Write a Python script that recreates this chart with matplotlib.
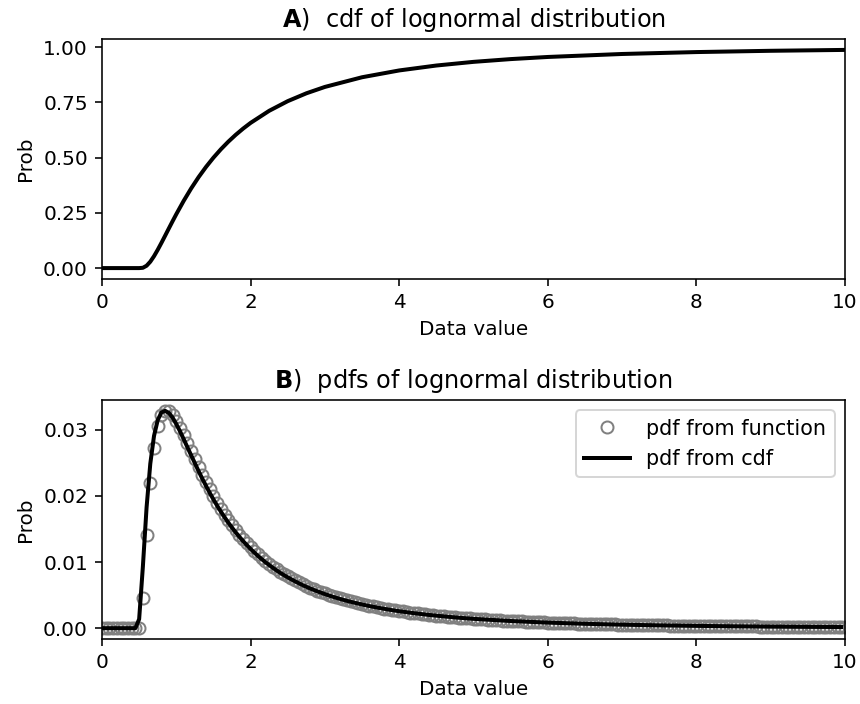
import numpy as np
import matplotlib
matplotlib.use("Agg")
import matplotlib.pyplot as plt

# sample grid of the "pdf from function" markers (every 0.05 from 0 to 10)
x_grid = np.linspace(0, 10, 201)

# pdf from function (one value per grid point)
pdf_func = [
    0, 0, 0, 0, 0, 0, 0, 0, 0, 0,
    0, 0.00449, 0.01408, 0.02199, 0.02731, 0.03052, 0.03221, 0.03285, 0.03277, 0.03223,
    0.03137, 0.03033, 0.02918, 0.02797, 0.02674, 0.02552, 0.02432, 0.02316, 0.02204, 0.02097,
    0.01995, 0.01897, 0.01805, 0.01718, 0.01635, 0.01557, 0.01482, 0.01413, 0.01346, 0.01284,
    0.01225, 0.01169, 0.01116, 0.01066, 0.01019, 0.00975, 0.00932, 0.00892, 0.00854, 0.00818,
    0.00784, 0.00752, 0.00721, 0.00692, 0.00664, 0.00638, 0.00613, 0.00589, 0.00567, 0.00545,
    0.00524, 0.00505, 0.00486, 0.00468, 0.00451, 0.00435, 0.00419, 0.00404, 0.00390, 0.00377,
    0.00364, 0.00351, 0.00339, 0.00328, 0.00317, 0.00306, 0.00296, 0.00287, 0.00277, 0.00269,
    0.00260, 0.00252, 0.00244, 0.00236, 0.00229, 0.00222, 0.00215, 0.00209, 0.00203, 0.00197,
    0.00191, 0.00185, 0.00180, 0.00175, 0.00170, 0.00165, 0.00160, 0.00156, 0.00151, 0.00147,
    0.00143, 0.00139, 0.00135, 0.00132, 0.00128, 0.00125, 0.00121, 0.00118, 0.00115, 0.00112,
    0.00109, 0.00107, 0.00104, 0.00101, 0.00099, 0.00096, 0.00094, 0.00092, 0.00089, 0.00087,
    0.00085, 0.00083, 0.00081, 0.00079, 0.00077, 0.00075, 0.00074, 0.00072, 0.00070, 0.00068,
    0.00067, 0.00065, 0.00064, 0.00062, 0.00061, 0.00060, 0.00058, 0.00057, 0.00056, 0.00054,
    0.00053, 0.00052, 0.00051, 0.00050, 0.00049, 0.00048, 0.00047, 0.00046, 0.00045, 0.00044,
    0.00043, 0.00042, 0.00041, 0.00040, 0.00040, 0.00039, 0.00038, 0.00037, 0.00036, 0.00036,
    0.00035, 0.00034, 0.00034, 0.00033, 0.00032, 0.00032, 0.00031, 0.00030, 0.00030, 0.00029,
    0.00029, 0.00028, 0.00028, 0.00027, 0.00027, 0.00026, 0.00026, 0.00025, 0.00025, 0.00024,
    0.00024, 0.00023, 0.00023, 0.00023, 0.00022, 0.00022, 0.00021, 0.00021, 0.00021, 0.00020,
    0.00020, 0.00020, 0.00019, 0.00019, 0.00019, 0.00018, 0.00018, 0.00018, 0.00017, 0.00017,
    0.00017,
]

# pdf from cdf (black line in panel B)
x_pdf_cdf = [
    0, 0.45, 0.50, 0.55, 0.60, 0.65, 0.70, 0.75, 0.80, 0.85, 0.90, 0.95,
    1.00, 1.05, 1.10, 1.15, 1.20, 1.25, 1.30, 1.35, 1.40, 1.45, 1.50, 1.55,
    1.60, 1.65, 1.70, 1.75, 1.80, 1.85, 1.90, 1.95, 2.00, 2.05, 2.10, 2.15,
    2.20, 2.25, 2.30, 2.35, 2.40, 2.45, 2.50, 2.60, 2.70, 2.80, 2.90, 3.00,
    3.10, 3.20, 3.30, 3.40, 3.50, 3.60, 3.70, 3.80, 3.90, 4.00, 4.20, 4.40,
    4.60, 4.80, 5.00, 5.50, 6.00, 6.50, 7.00, 7.50, 8.00, 8.50, 9.00, 9.50, 9.95,
]
pdf_cdf = [
    0, 0, 0.00137, 0.00928, 0.01826, 0.02487, 0.02906, 0.03146, 0.03262, 0.03285, 0.03254, 0.03184,
    0.03085, 0.02977, 0.02856, 0.02734, 0.02614, 0.02494, 0.02374, 0.02260, 0.02151, 0.02046, 0.01946, 0.01851,
    0.01762, 0.01677, 0.01596, 0.01520, 0.01448, 0.01380, 0.01315, 0.01255, 0.01197, 0.01143, 0.01091, 0.01043,
    0.00997, 0.00954, 0.00912, 0.00873, 0.00836, 0.00801, 0.00768, 0.00707, 0.00651, 0.00601, 0.00556, 0.00515,
    0.00477, 0.00443, 0.00412, 0.00384, 0.00358, 0.00334, 0.00312, 0.00292, 0.00273, 0.00256, 0.00226, 0.00200,
    0.00178, 0.00158, 0.00141, 0.00108, 0.00084, 0.00066, 0.000525, 0.000425, 0.000345, 0.000285, 0.000235, 0.000195, 0.00017,
]

# cdf (panel A)
x_cdf = [
    0, 0.50, 0.55, 0.60, 0.65, 0.70, 0.75, 0.80, 0.85, 0.90, 0.95, 1.0,
    1.1, 1.2, 1.3, 1.4, 1.5, 1.6, 1.7, 1.8, 1.9, 2.0, 2.25, 2.5,
    2.75, 3.0, 3.5, 4.0, 4.5, 5.0, 5.5, 6.0, 7.0, 8.0, 9.0, 10.0,
]
cdf = [
    0, 0, 0.00137, 0.01064, 0.02892, 0.05380, 0.08286, 0.11429, 0.14691, 0.17976, 0.21229, 0.24413,
    0.30475, 0.36065, 0.41173, 0.45803, 0.50000, 0.53796, 0.57233, 0.60349, 0.63175, 0.65744, 0.71213, 0.75587,
    0.79128, 0.82024, 0.86404, 0.89486, 0.91714, 0.93372, 0.94623, 0.95588, 0.96938, 0.97804, 0.98383, 0.98782,
]

fig = plt.figure(figsize=(860 / 144, 704 / 144), dpi=144)
ax1 = fig.add_axes([0.1186, 0.6037, 0.864, 0.3409])
ax2 = fig.add_axes([0.1186, 0.0923, 0.864, 0.3395])

# A) cdf
ax1.plot(x_cdf, cdf, 'k', linewidth=2)
ax1.set_xlim(0, 10)
ax1.set_yticks([0, 0.25, 0.5, 0.75, 1.0])
ax1.set_xlabel('Data value')
ax1.set_ylabel('Prob')
ax1.set_title(r'$\bf{A}$)  cdf of lognormal distribution')

# B) pdfs
ax2.plot(x_grid, pdf_func, 'o', markerfacecolor='none', markeredgecolor=(0.5, 0.5, 0.5),
         markersize=6, label='pdf from function')
ax2.plot(x_pdf_cdf, pdf_cdf, 'k', linewidth=2, label='pdf from cdf')
ax2.set_xlim(0, 10)
ax2.set_yticks([0, 0.01, 0.02, 0.03])
ax2.set_xlabel('Data value')
ax2.set_ylabel('Prob')
ax2.set_title(r'$\bf{B}$)  pdfs of lognormal distribution')
ax2.legend(fontsize=10.4, handlelength=2.2)

plt.savefig('out.png', dpi=144)
